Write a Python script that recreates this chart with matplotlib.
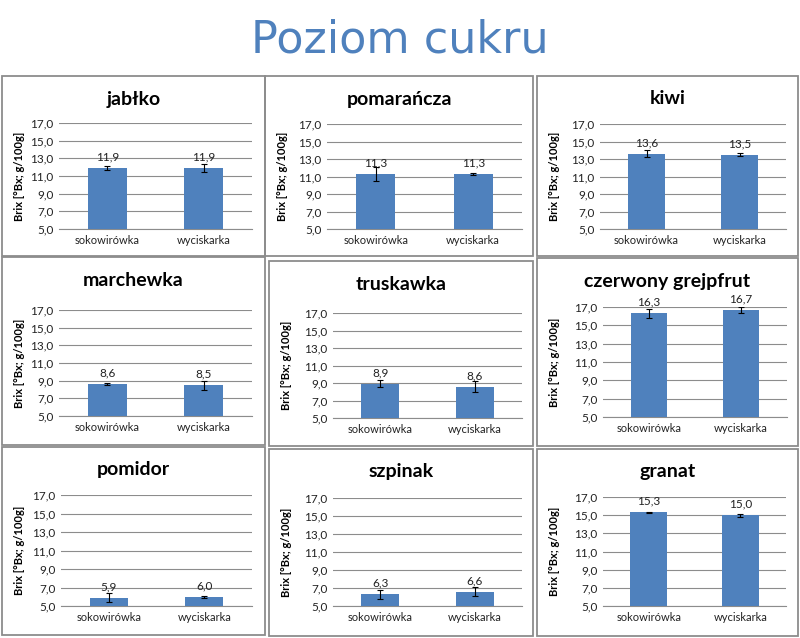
import matplotlib.pyplot as plt
from matplotlib.patches import Rectangle

W, H = 800, 638

# dane
produkty = ['jabłko', 'pomarańcza', 'kiwi',
            'marchewka', 'truskawka', 'czerwony grejpfrut',
            'pomidor', 'szpinak', 'granat']
metody = ['sokowirówka', 'wyciskarka']
sokowirowka = [11.9, 11.3, 13.6, 8.6, 8.9, 16.3, 5.9, 6.3, 15.3]
wyciskarka = [11.9, 11.3, 13.5, 8.5, 8.6, 16.7, 6.0, 6.6, 15.0]
blad_sok = [0.25, 0.8, 0.4, 0.1, 0.4, 0.5, 0.5, 0.5, 0.1]
blad_wyc = [0.5, 0.15, 0.2, 0.5, 0.6, 0.3, 0.1, 0.5, 0.15]
y_ticks = [5, 7, 9, 11, 13, 15, 17]

# uklad (piksele): ramka panelu i obszar wykresu
ramki = [(2, 76, 265, 256), (265, 76, 533, 256), (537, 76, 798, 256),
         (2, 257, 265, 445), (269, 261, 533, 446), (537, 258, 798, 446),
         (2, 447, 265, 635), (269, 449, 533, 636), (537, 449, 798, 636)]
obszary = [(59, 123, 252, 229), (327, 124, 522, 229), (600, 124, 786, 229),
           (59, 310, 252, 416), (333, 313, 522, 418), (603, 307, 787, 417),
           (61, 495, 252, 606), (333, 498, 522, 606), (603, 497, 786, 606)]

BLUE = '#4F81BD'
FONT = 'Lato'


def fig_rect(x0, y0, x1, y1):
    return [x0 / W, 1 - y1 / H, (x1 - x0) / W, (y1 - y0) / H]


def fmt(v):
    return f'{v:.1f}'.replace('.', ',')


fig = plt.figure(figsize=(W / 100, H / 100), dpi=100)
fig.text(0.5, 1 - 40 / H, 'Poziom cukru', ha='center', va='center',
         fontsize=32, color=BLUE, family='DejaVu Sans')

for i, nazwa in enumerate(produkty):
    bx0, by0, bx1, by1 = ramki[i]
    fig.patches.append(Rectangle((bx0 / W, 1 - by1 / H), (bx1 - bx0) / W, (by1 - by0) / H,
                                 transform=fig.transFigure, fill=False,
                                 edgecolor='#8c8c8c', linewidth=1.3))
    ax = fig.add_axes(fig_rect(*obszary[i]))
    vals = [sokowirowka[i], wyciskarka[i]]
    errs = [blad_sok[i], blad_wyc[i]]
    ax.bar([0, 1], vals, width=0.4, color=BLUE, zorder=3, bottom=0)
    ax.errorbar([0, 1], vals, yerr=errs, fmt='none', ecolor='black',
                elinewidth=0.8, capsize=2.5, capthick=0.8, zorder=4)
    for x, v in zip([0, 1], vals):
        ax.annotate(fmt(v), (x, v), xytext=(0, 4), textcoords='offset points',
                    ha='center', va='bottom', fontsize=8.5, family=FONT, color='#222222')
    ax.set_ylim(5, 17)
    ax.set_xlim(-0.5, 1.5)
    ax.set_yticks(y_ticks)
    ax.set_yticklabels([fmt(t) for t in y_ticks], fontsize=8.5, family=FONT, color='#222222')
    ax.set_xticks([0, 1])
    ax.set_xticklabels(metody, fontsize=8, family=FONT, color='#222222')
    ax.tick_params(length=0, pad=4)
    ax.grid(axis='y', color='#8c8c8c', linewidth=0.8, zorder=0)
    for s in ['top', 'right', 'left']:
        ax.spines[s].set_visible(False)
    ax.spines['bottom'].set_color('#8c8c8c')
    ax.set_ylabel('Brix [°Bx; g/100g]', fontsize=8, fontweight='bold', family=FONT)
    ax.yaxis.set_label_coords(((bx0 + 23) - obszary[i][0]) / (obszary[i][2] - obszary[i][0]), 0.5)
    ty = by0 + 23
    fig.text((bx0 + bx1) / 2 / W, 1 - ty / H, nazwa, ha='center', va='center',
             fontsize=14, fontweight='bold', family=FONT)

fig.savefig('out.png', dpi=100)
